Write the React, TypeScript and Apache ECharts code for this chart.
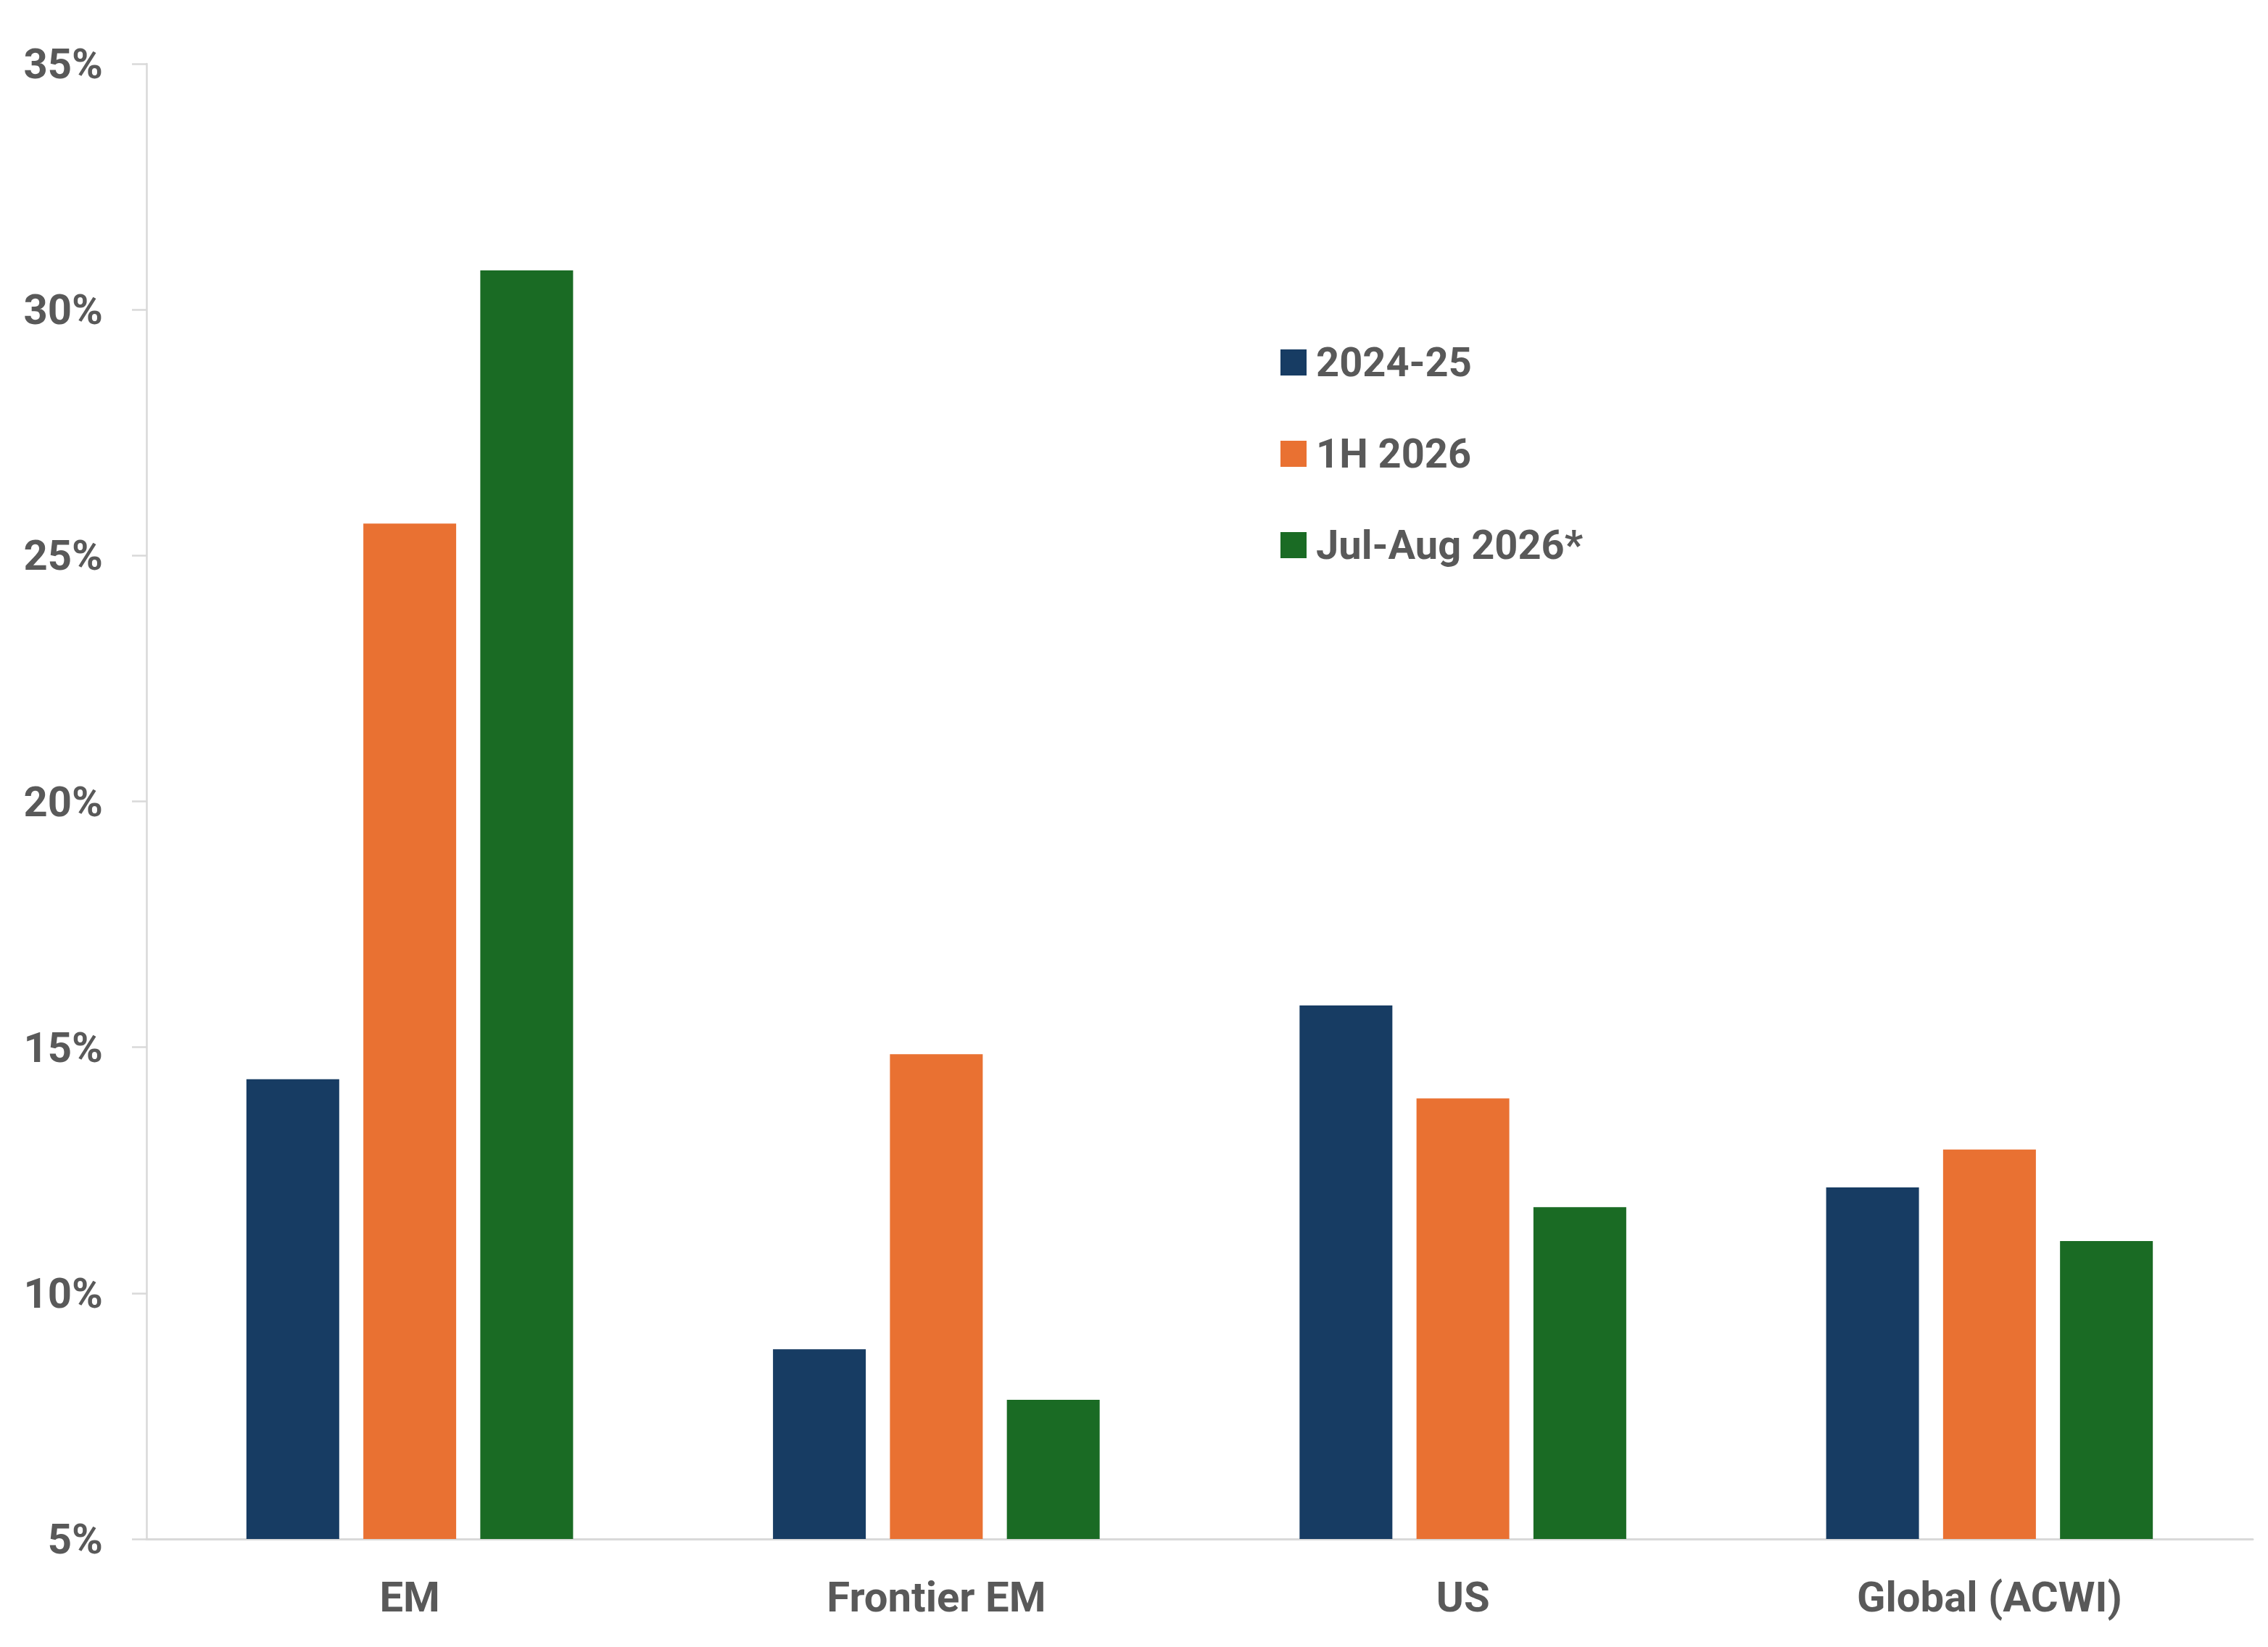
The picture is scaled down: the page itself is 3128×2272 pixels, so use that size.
import React, { useEffect, useRef } from "react";
import * as echarts from "echarts";

const categories = ["EM", "Frontier EM", "US", "Global (ACWI)"];
const seriesNames = ["2024-25", "1H 2026", "Jul-Aug 2026*"];
const values2024 = [14.35, 8.86, 15.85, 12.15];
const values1H2026 = [25.65, 14.86, 13.96, 12.92];
const valuesJulAug2026 = [30.8, 7.83, 11.75, 11.06];
const colors = ["#173c63", "#e97132", "#1a6b24"];

const FONT = "Roboto";
const TEXT_COLOR = "#595959";

export default function App() {
  const ref = useRef<HTMLDivElement>(null);
  useEffect(() => {
    document.body.style.margin = "0";
    const chart = echarts.init(ref.current!, null, { renderer: "svg" });
    const data = [values2024, values1H2026, valuesJulAug2026];
    chart.setOption({
      animation: false,
      backgroundColor: "#ffffff",
      grid: { left: 202, right: 21, top: 88, bottom: 149 },
      legend: {
        orient: "vertical",
        left: 1766,
        top: 470,
        padding: 0,
        itemWidth: 36,
        itemHeight: 36,
        itemGap: 66,
        icon: "rect",
        data: seriesNames,
        textStyle: {
          fontFamily: FONT,
          fontWeight: "bold",
          fontSize: 56,
          color: TEXT_COLOR,
          lineHeight: 60,
          padding: [0, 0, 0, 8],
        },
      },
      xAxis: {
        type: "category",
        data: categories,
        axisLine: { show: true, lineStyle: { color: "#d9d9d9", width: 3 } },
        axisTick: { show: false },
        axisLabel: {
          fontFamily: FONT,
          fontWeight: "bold",
          fontSize: 58,
          color: TEXT_COLOR,
          margin: 51,
        },
      },
      yAxis: {
        type: "value",
        min: 5,
        max: 35,
        interval: 5,
        splitLine: { show: false },
        axisLine: { show: true, lineStyle: { color: "#d9d9d9", width: 2.5 } },
        axisTick: { show: true, length: 20, lineStyle: { color: "#d9d9d9", width: 2.5 } },
        axisLabel: {
          fontFamily: FONT,
          fontWeight: "bold",
          fontSize: 58,
          color: TEXT_COLOR,
          margin: 60,
          formatter: (v: number) => `${v}%`,
        },
      },
      series: seriesNames.map((name, i) => ({
        name,
        type: "bar",
        data: data[i],
        barWidth: 128,
        barGap: "26%",
        itemStyle: { color: colors[i] },
      })),
    });
    return () => chart.dispose();
  }, []);
  return (
    <div
      ref={ref}
      style={{ position: "absolute", left: 0, top: 0, width: 3128, height: 2272 }}
    />
  );
}
